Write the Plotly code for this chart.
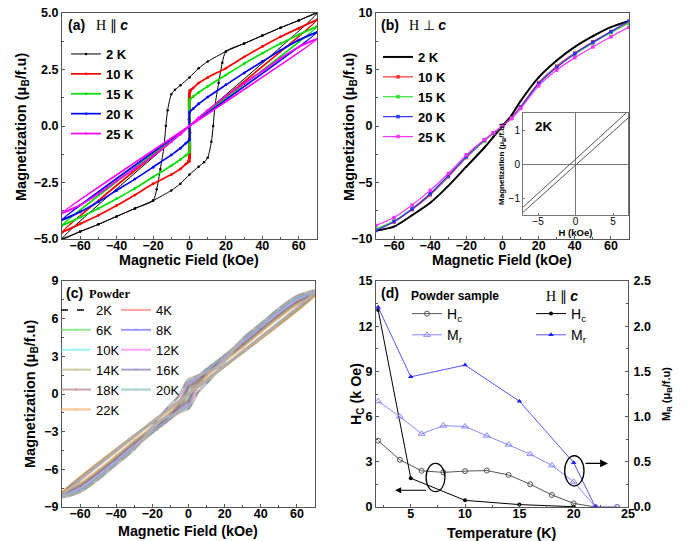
import plotly.graph_objects as go

FONT = "Liberation Sans, Arial, sans-serif"
SERIF = "Liberation Serif, Times New Roman, serif"
W, H = 691, 541

# ---------------- Panel (a): H || c (descending branches, loops are symmetric) ----------------
a_names = ["2 K", "10 K", "15 K", "20 K", "25 K"]
a_colors = ["#000000", "#ff0000", "#00e000", "#0000ff", "#ff00ff"]
a_H_2K = [70, 60, 50, 40, 30, 20, 10, 5, 0, -5, -8, -10, -12, -13, -14, -16, -18, -20, -30, -40, -50, -60, -70]
a_M_2K = [5.0, 4.67, 4.35, 4.0, 3.65, 3.3, 2.85, 2.55, 2.15, 1.8, 1.6, 1.4, 0.7, 0.0, -0.9, -1.9, -2.8, -3.3, -3.65, -4.0, -4.35, -4.67, -5.0]
a_H_10K = [70, 60, 50, 40, 30, 20, 10, 5, 2, 0, -0.4, -0.6, -2, -5, -10, -20, -30, -40, -50, -60, -70]
a_M_10K = [4.7, 4.33, 3.95, 3.52, 3.05, 2.56, 2.15, 1.9, 1.68, 1.57, 0.3, -1.55, -1.68, -1.9, -2.15, -2.56, -3.05, -3.52, -3.95, -4.33, -4.7]
a_H_15K = [70, 60, 50, 40, 30, 20, 10, 5, 2, 0, -0.15, -0.3, -2, -5, -10, -20, -30, -40, -50, -60, -70]
a_M_15K = [4.4, 4.04, 3.65, 3.22, 2.76, 2.26, 1.76, 1.48, 1.3, 1.17, 0.0, -1.15, -1.3, -1.48, -1.76, -2.26, -2.76, -3.22, -3.65, -4.04, -4.4]
a_H_20K = [70, 60, 50, 40, 30, 20, 10, 5, 2, 0, -0.05, -0.1, -2, -5, -10, -20, -30, -40, -50, -60, -70]
a_M_20K = [4.15, 3.8, 3.35, 2.85, 2.35, 1.82, 1.28, 0.98, 0.76, 0.62, 0.0, -0.6, -0.76, -0.98, -1.28, -1.82, -2.35, -2.85, -3.35, -3.8, -4.15]
a_H_25K = [70, 60, 50, 40, 30, 20, 10, 5, 0, -5, -10, -20, -30, -40, -50, -60, -70]
a_M_25K = [3.85, 3.5, 3.0, 2.43, 1.88, 1.32, 0.7, 0.36, 0.0, -0.36, -0.7, -1.32, -1.88, -2.43, -3.0, -3.5, -3.85]

# ---------------- Panel (b): H perp c ----------------
b_names = ["2 K", "10 K", "15 K", "20 K", "25 K"]
b_colors = ["#000000", "#ff3030", "#30e030", "#3030ff", "#ff30ff"]
b_H = [-70, -60, -50, -40, -30, -20, -10, -5, 0, 5, 10, 20, 30, 40, 50, 60, 70]
b_M_2K = [-9.25, -8.9, -7.9, -6.8, -5.3, -3.6, -1.9, -0.95, 0, 0.95, 2.2, 4.3, 5.8, 7.0, 7.95, 8.75, 9.3]
b_M_10K = [-9.2, -8.5, -7.4, -6.1, -4.5, -2.8, -1.3, -0.65, 0, 0.75, 1.7, 3.85, 5.3, 6.45, 7.45, 8.35, 9.2]
b_M_15K = [-9.1, -8.4, -7.3, -6.0, -4.4, -2.75, -1.3, -0.65, 0, 0.7, 1.65, 3.75, 5.2, 6.35, 7.35, 8.25, 9.1]
b_M_20K = [-9.25, -8.45, -7.35, -6.0, -4.4, -2.7, -1.25, -0.6, 0, 0.7, 1.65, 3.75, 5.2, 6.4, 7.4, 8.35, 9.3]
b_M_25K = [-8.8, -8.1, -7.0, -5.7, -4.2, -2.55, -1.2, -0.6, 0, 0.65, 1.55, 3.55, 4.95, 6.05, 7.0, 7.9, 8.75]
# inset (2K, low field)
inset_H = [-7, 7]
inset_M_upper = [-1.27, 1.55]
inset_M_lower = [-1.42, 1.35]

# ---------------- Panel (c): powder (descending branches) ----------------
c_names = ["2K", "4K", "6K", "8K", "10K", "12K", "14K", "16K", "18K", "20K", "22K"]
c_colors = ["#000000", "#ff6a6a", "#4be04b", "#5a5aff", "#5af0f0", "#ff6aff",
            "#b0a868", "#6a6aa8", "#a86a6a", "#6ab0b0", "#ffa040"]
c_H = [70, 60, 50, 40, 30, 20, 15, 10, 5, 2.5, 0, -2.5, -5, -7.5, -10, -12.5, -15, -17.5, -20, -30, -40, -50, -60, -70]
c_M_2K = [8.2, 7.8, 6.8, 5.6, 4.4, 2.8, 2.05, 1.75, 1.45, 1.3, 1.17, 0.6, -0.1, -0.5, -0.85, -1.25, -1.65, -2.05, -2.6, -4.4, -5.6, -6.8, -7.8, -8.2]
c_M_4K = [8.16, 7.73, 6.72, 5.53, 4.33, 3.1, 2.55, 2.0, 1.45, 1.2, 1.0, 0.2, -0.6, -1.3, -1.9, -2.28, -2.55, -2.83, -3.1, -4.33, -5.53, -6.72, -7.73, -8.16]
c_M_6K = [8.12, 7.66, 6.65, 5.46, 4.26, 3.05, 2.5, 1.95, 1.35, 1.05, 0.81, -0.05, -0.75, -1.35, -1.9, -2.22, -2.5, -2.78, -3.05, -4.26, -5.46, -6.65, -7.66, -8.12]
c_M_8K = [8.08, 7.59, 6.57, 5.39, 4.19, 3.0, 2.45, 1.9, 1.35, 1.1, 0.9, -0.05, -0.75, -1.3, -1.85, -2.18, -2.45, -2.73, -3.0, -4.19, -5.39, -6.57, -7.59, -8.08]
c_M_10K = [8.04, 7.52, 6.5, 5.32, 4.12, 2.95, 2.4, 1.85, 1.3, 1.08, 0.89, -0.04, -0.72, -1.25, -1.8, -2.12, -2.4, -2.68, -2.95, -4.12, -5.32, -6.5, -7.52, -8.04]
c_M_12K = [8.0, 7.45, 6.42, 5.25, 4.05, 2.9, 2.35, 1.8, 1.2, 0.98, 0.79, -0.02, -0.7, -1.2, -1.75, -2.08, -2.35, -2.63, -2.9, -4.05, -5.25, -6.42, -7.45, -8.0]
c_M_14K = [7.96, 7.38, 6.35, 5.18, 3.98, 2.85, 2.3, 1.75, 1.15, 0.9, 0.69, -0.1, -0.72, -1.2, -1.7, -2.03, -2.3, -2.58, -2.85, -3.98, -5.18, -6.35, -7.38, -7.96]
c_M_16K = [7.92, 7.31, 6.27, 5.11, 3.91, 2.8, 2.25, 1.7, 1.05, 0.8, 0.585, -0.3, -0.8, -1.2, -1.65, -1.98, -2.25, -2.53, -2.8, -3.91, -5.11, -6.27, -7.31, -7.92]
c_M_18K = [7.88, 7.24, 6.2, 5.04, 3.84, 2.75, 2.2, 1.6, 0.95, 0.7, 0.46, -0.55, -0.9, -1.25, -1.6, -1.9, -2.2, -2.48, -2.75, -3.84, -5.04, -6.2, -7.24, -7.88]
c_M_20K = [7.84, 7.17, 6.12, 4.97, 3.77, 2.7, 2.1, 1.5, 0.8, 0.55, 0.28, -0.5, -0.8, -1.15, -1.5, -1.8, -2.1, -2.4, -2.7, -3.77, -4.97, -6.12, -7.17, -7.84]
c_M_22K = [7.8, 7.1, 6.05, 4.9, 3.7, 2.6, 2.0, 1.4, 0.7, 0.4, 0.0, -0.4, -0.7, -1.05, -1.4, -1.7, -2.0, -2.3, -2.6, -3.7, -4.9, -6.05, -7.1, -7.8]

# ---------------- Panel (d): coercivity and remanence vs T ----------------
d_T_powder = [2, 4, 6, 8, 10, 12, 14, 16, 18, 20, 22, 24]
d_Hc_powder = [4.4, 3.13, 2.4, 2.3, 2.38, 2.42, 2.13, 1.51, 0.8, 0.24, 0.0, 0.0]
d_Mr_powder = [1.17, 1.0, 0.81, 0.9, 0.89, 0.79, 0.69, 0.585, 0.46, 0.28, 0.0, 0.0]
d_T_c_Hc = [2, 5, 10, 15, 20]
d_Hc_c = [13.07, 1.91, 0.44, 0.16, 0.02]
d_T_c_Mr = [2, 5, 10, 15, 20, 22]
d_Mr_c = [2.21, 1.44, 1.57, 1.17, 0.49, 0.0]


def full_loop(hd, md):
    """descending branch followed by the (point-symmetric) ascending branch"""
    return hd + [-h for h in hd[::-1]], md + [-m for m in md[::-1]]


fig = go.Figure()
SM = 0.7

# (a)
a_data = [(a_H_2K, a_M_2K), (a_H_10K, a_M_10K), (a_H_15K, a_M_15K), (a_H_20K, a_M_20K), (a_H_25K, a_M_25K)]
for name, col, (hd, md) in zip(a_names, a_colors, a_data):
    x, y = full_loop(hd, md)
    fig.add_trace(go.Scatter(x=x, y=y, name=name, mode="lines+markers",
                             line=dict(color=col, width=1 if name == "2 K" else 1.7, shape="spline", smoothing=SM),
                             marker=dict(color=col, size=2.5),
                             xaxis="x", yaxis="y", legend="legend"))

# (b)
b_data = [b_M_2K, b_M_10K, b_M_15K, b_M_20K, b_M_25K]
for name, col, m in zip(b_names, b_colors, b_data):
    fig.add_trace(go.Scatter(x=b_H, y=m, name=name, mode="lines+markers",
                             line=dict(color=col, width=2 if name == "2 K" else 1.2, shape="spline", smoothing=SM),
                             marker=dict(color=col, size=3.5 if name != "2 K" else 2,
                                         symbol="square" if name != "2 K" else "circle"),
                             xaxis="x2", yaxis="y2", legend="legend2"))
for m in (inset_M_upper, inset_M_lower):
    fig.add_trace(go.Scatter(x=inset_H, y=m, mode="lines", line=dict(color="#555555", width=1),
                             showlegend=False, xaxis="x5", yaxis="y5"))

# (c)
c_data = [c_M_2K, c_M_4K, c_M_6K, c_M_8K, c_M_10K, c_M_12K, c_M_14K, c_M_16K, c_M_18K, c_M_20K, c_M_22K]
for i, (name, col, md) in enumerate(zip(c_names, c_colors, c_data)):
    x, y = full_loop(c_H, md)
    leg = "legend3" if i % 2 == 0 else "legend4"
    if name == "2K":
        fig.add_trace(go.Scatter(x=x, y=y, name=name, mode="lines",
                                 line=dict(color="#000000", width=1.4, dash="7px,9px", shape="spline", smoothing=SM),
                                 xaxis="x3", yaxis="y3", legend=leg))
    else:
        fig.add_trace(go.Scatter(x=x, y=y, name=name, mode="lines+markers",
                                 line=dict(color=col, width=2, shape="spline", smoothing=SM), opacity=0.6,
                                 marker=dict(color=col, size=2.5),
                                 xaxis="x3", yaxis="y3", legend=leg))
x2k, y2k = full_loop(c_H, c_M_2K)
fig.add_trace(go.Scatter(x=x2k, y=y2k, mode="lines", opacity=0.8,
                         line=dict(color="#b4b4b4", width=3, shape="spline", smoothing=SM),
                         showlegend=False, xaxis="x3", yaxis="y3"))

# (d)
fig.add_trace(go.Scatter(x=d_T_powder, y=d_Hc_powder, name="H<sub>c</sub>", mode="lines+markers",
                         line=dict(color="#555555", width=1),
                         marker=dict(symbol="circle-open", size=5, color="#555555"),
                         xaxis="x4", yaxis="y4", legend="legend5"))
fig.add_trace(go.Scatter(x=d_T_powder, y=d_Mr_powder, name="M<sub>r</sub>", mode="lines+markers",
                         line=dict(color="#8888ff", width=1),
                         marker=dict(symbol="triangle-up-open", size=6, color="#8888ff"),
                         xaxis="x4", yaxis="y6", legend="legend5"))
fig.add_trace(go.Scatter(x=d_T_c_Hc, y=d_Hc_c, name="H<sub>c</sub>", mode="lines+markers",
                         line=dict(color="#000000", width=1),
                         marker=dict(symbol="circle", size=4, color="#000000"),
                         xaxis="x4", yaxis="y4", legend="legend6"))
fig.add_trace(go.Scatter(x=d_T_c_Mr, y=d_Mr_c, name="M<sub>r</sub>", mode="lines+markers",
                         line=dict(color="#5555ff", width=1),
                         marker=dict(symbol="triangle-up", size=5, color="#2020ff"),
                         xaxis="x4", yaxis="y6", legend="legend6"))

AXC = "#555555"
tickfont = dict(family=FONT, size=12.5, color="black", weight="bold")


def axis(**kw):
    d = dict(showline=True, linecolor=AXC, linewidth=1, mirror=True, ticks="inside", ticklen=3,
             tickcolor=AXC, showgrid=False, zeroline=False, tickfont=tickfont, automargin=False)
    d.update(kw)
    return d


def xaxis_(**kw):
    return axis(ticklabelstandoff=-5, **kw)


def minor(vals):
    return dict(tickvals=vals, ticks="inside", ticklen=2, tickcolor=AXC)


xa_dom = [62 / W, 317 / W]
xb_dom = [376 / W, 629 / W]
y_top = [1 - 239 / H, 1 - 13 / H]
y_bot = [1 - 507 / H, 1 - 281 / H]
xt = [-60, -40, -20, 0, 20, 40, 60]
xm = [-50, -30, -10, 10, 30, 50]

fig.update_layout(
    width=W, height=H, margin=dict(l=0, r=0, t=0, b=0),
    paper_bgcolor="white", plot_bgcolor="white",
    font=dict(family=FONT, color="black"),
    xaxis=xaxis_(domain=xa_dom, anchor="y", range=[-70, 70], tickvals=xt, minor=minor(xm)),
    yaxis=axis(domain=y_top, anchor="x", range=[-5, 5], tickvals=[-5, -2.5, 0, 2.5, 5], tickformat=".1f",
               minor=minor([-3.75, -1.25, 1.25, 3.75])),
    xaxis2=xaxis_(domain=xb_dom, anchor="y2", range=[-70, 70], tickvals=xt, minor=minor(xm)),
    yaxis2=axis(domain=y_top, anchor="x2", range=[-10, 10], tickvals=[-10, -5, 0, 5, 10],
                minor=minor([-7.5, -2.5, 2.5, 7.5])),
    xaxis3=xaxis_(domain=[62 / W, 315 / W], anchor="y3", range=[-70, 70], tickvals=xt, minor=minor(xm)),
    yaxis3=axis(domain=y_bot, anchor="x3", range=[-9, 9], tickvals=[-9, -6, -3, 0, 3, 6, 9],
                minor=minor([-7.5, -4.5, -1.5, 1.5, 4.5, 7.5])),
    xaxis4=xaxis_(domain=[376 / W, 628 / W], anchor="y4", range=[1.8, 25], tickvals=[5, 10, 15, 20, 25],
                  minor=minor([2.5, 7.5, 12.5, 17.5, 22.5])),
    yaxis4=axis(domain=y_bot, anchor="x4", range=[0, 15], tickvals=[0, 3, 6, 9, 12, 15], mirror=False,
                minor=minor([1.5, 4.5, 7.5, 10.5, 13.5])),
    yaxis6=axis(domain=y_bot, anchor="x4", overlaying="y4", side="right", range=[0, 2.5],
                tickvals=[0, 0.5, 1.0, 1.5, 2.0, 2.5], tickformat=".1f", mirror=False, ticklabelstandoff=2,
                minor=minor([0.25, 0.75, 1.25, 1.75, 2.25])),
    xaxis5=dict(domain=[523 / W, 628 / W], anchor="y5", range=[-7, 7], tickvals=[-5, 0, 5],
                showline=True, linecolor="#777777", mirror=True, ticks="inside", ticklen=2, tickcolor="#777777",
                showgrid=False, zeroline=True, zerolinecolor="#777777", zerolinewidth=1, automargin=False,
                ticklabelstandoff=-3,
                tickfont=dict(family=FONT, size=10, color="black"),
                title=dict(text="H (kOe)", standoff=0, font=dict(family=FONT, size=9.5, color="black", weight="bold"))),
    yaxis5=dict(domain=[1 - 215 / H, 1 - 113 / H], anchor="x5", range=[-1.5, 1.5], tickvals=[-1, 0, 1],
                showline=True, linecolor="#777777", mirror=True, ticks="inside", ticklen=2, tickcolor="#777777",
                showgrid=False, zeroline=True, zerolinecolor="#777777", zerolinewidth=1, automargin=False,
                tickfont=dict(family=FONT, size=10, color="black"),
                title=dict(text="Magnetization (μ<sub>B</sub>/f.u)", standoff=2,
                           font=dict(family=FONT, size=8, color="black", weight="bold"))),
)

legbase = dict(bgcolor="rgba(0,0,0,0)", xanchor="left", yanchor="top", itemwidth=30, tracegroupgap=0)
fig.update_layout(
    legend=dict(legbase, x=66 / W, y=1 - 39 / H, font=dict(family=FONT, size=13, weight="bold")),
    legend2=dict(legbase, x=378 / W, y=1 - 42 / H, font=dict(family=FONT, size=13, weight="bold")),
    legend3=dict(legbase, x=56 / W, y=1 - 295 / H, font=dict(family=FONT, size=13)),
    legend4=dict(legbase, x=116 / W, y=1 - 295 / H, font=dict(family=FONT, size=13)),
    legend5=dict(legbase, x=407 / W, y=1 - 298 / H, font=dict(family=FONT, size=14)),
    legend6=dict(legbase, x=531 / W, y=1 - 298 / H, font=dict(family=FONT, size=14)),
)

ann = []


def label(x, y, text, size=14, family=FONT, bold=True, angle=0, anchor="left"):
    ann.append(dict(x=x / W, y=1 - y / H, xref="paper", yref="paper", xanchor=anchor, yanchor="middle",
                    text=text, showarrow=False, textangle=angle,
                    font=dict(family=family, size=size, color="black", weight="bold" if bold else "normal")))


CSPAN = "<i><b><span style='font-family:Liberation Sans'>c</span></b></i>"
label(66, 25, "(a)")
label(94, 25, "H ∥ " + CSPAN, size=14, family=SERIF, bold=False)
label(379, 25, "(b)")
label(407, 25, "H ⊥ " + CSPAN, size=14, family=SERIF, bold=False)
label(64, 293, "(c)")
label(87, 294, "Powder", size=12.5, family=SERIF)
label(379, 293, "(d)")
label(409, 296, "Powder sample", size=12)
label(544, 296, "H ∥ " + CSPAN, size=14, family=SERIF, bold=False)
label(533, 127, "2K", size=13.5)

# axis titles
YT = "Magnetization (μ<sub>B</sub>/f.u)"
label(189, 260, "Magnetic Field (kOe)", size=14.3, anchor="center")
label(502, 260, "Magnetic Field (kOe)", size=14.3, anchor="center")
label(188, 531, "Magnetic Field (kOe)", size=14.3, anchor="center")
label(502, 533, "Temperature (K)", size=14.3, anchor="center")
label(22, 127, YT, size=14.5, angle=-90, anchor="center")
label(350, 127, YT, size=14.5, angle=-90, anchor="center")
label(31, 394, YT, size=14.5, angle=-90, anchor="center")
label(357, 394, "H<sub>C</sub> (k Oe)", size=14.3, angle=-90, anchor="center")
label(667, 394, "M<sub>R</sub> (μ<sub>B</sub>/f.u)", size=11, angle=-90, anchor="center")

# arrows next to the ellipses in (d)
ann.append(dict(x=3.56, y=1.11, ax=6.56, ay=1.11, xref="x4", yref="y4", axref="x4", ayref="y4",
                text="", showarrow=True, arrowhead=2, arrowsize=1.2, arrowwidth=1, arrowcolor="black"))
ann.append(dict(x=23.15, y=2.89, ax=20.95, ay=2.89, xref="x4", yref="y4", axref="x4", ayref="y4",
                text="", showarrow=True, arrowhead=2, arrowsize=1.2, arrowwidth=1.3, arrowcolor="black"))
fig.update_layout(annotations=ann)

fig.update_layout(shapes=[
    dict(type="circle", xref="x4", yref="y4", x0=6.41, x1=8.15, y0=1.02, y1=2.89,
         line=dict(color="black", width=1.3)),
    dict(type="circle", xref="x4", yref="y4", x0=19.17, x1=20.95, y0=1.4, y1=3.4,
         line=dict(color="black", width=1.3)),
])

fig.write_html("out.html")
